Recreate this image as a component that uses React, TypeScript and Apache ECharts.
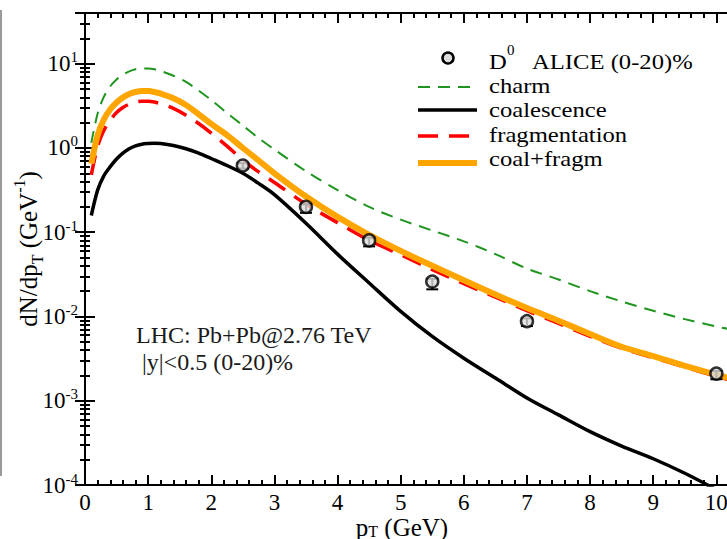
import React, { useEffect, useRef } from "react";
import * as echarts from "echarts";

// transverse momentum grid shared by the model curves (GeV)
const pT = [
  0.1, 0.2, 0.3, 0.4, 0.5, 0.6, 0.7, 0.8, 0.9, 1.0, 1.1, 1.2, 1.4, 1.6, 1.8, 2.0,
  2.25, 2.5, 2.75, 3.0, 3.5, 4.0, 4.5, 5.0, 5.5, 6.0, 6.5, 7.0, 7.5, 8.0, 8.5, 9.0,
  9.5, 10.0, 10.2,
];

// dN/dpT (GeV^-1) for each model component
const charm = [
  1.15, 2.57, 4.07, 5.4, 6.5, 7.4, 8.1, 8.6, 8.8, 8.8, 8.6, 8.2, 7.2, 6.1, 4.8, 3.7,
  2.6, 1.85, 1.31, 0.96, 0.53, 0.316, 0.2, 0.141, 0.105, 0.078, 0.055, 0.037, 0.0275,
  0.02, 0.0151, 0.0117, 0.0093, 0.0076, 0.0071,
];
const coalescence = [
  0.158, 0.316, 0.47, 0.6, 0.74, 0.87, 0.98, 1.06, 1.11, 1.13, 1.14, 1.13, 1.07, 0.98,
  0.87, 0.75, 0.62, 0.5, 0.38, 0.28, 0.128, 0.055, 0.025, 0.0115, 0.0058, 0.0032,
  0.00186, 0.00108, 0.00068, 0.00043, 0.00029, 0.000205, 0.000138, 0.000088, 0.000072,
];
const fragmentation = [
  0.48, 1.05, 1.62, 2.14, 2.63, 3.02, 3.31, 3.51, 3.59, 3.59, 3.51, 3.35, 2.95, 2.45,
  1.95, 1.5, 1.05, 0.72, 0.52, 0.39, 0.215, 0.13, 0.08, 0.054, 0.036, 0.0245, 0.017,
  0.0117, 0.0083, 0.0058, 0.0042, 0.00324, 0.00251, 0.00195, 0.00178,
];
const coalFragm = [
  0.65, 1.41, 2.19, 2.88, 3.47, 3.98, 4.37, 4.62, 4.73, 4.73, 4.62, 4.42, 3.89, 3.24,
  2.51, 1.93, 1.42, 1.0, 0.71, 0.5, 0.265, 0.152, 0.093, 0.06, 0.04, 0.0269, 0.0182,
  0.0126, 0.0089, 0.0062, 0.00437, 0.00339, 0.0026, 0.00204, 0.00186,
];

// D0 ALICE (0-20)% measurement
const alicePt = [2.5, 3.5, 4.5, 5.5, 7.0, 10.0];
const aliceYield = [0.62, 0.2, 0.08, 0.026, 0.0088, 0.0021];
const aliceLow = [0.57, 0.17, 0.068, 0.021, 0.0077, 0.0018];
const aliceHigh = [0.66, 0.215, 0.086, 0.028, 0.0095, 0.00225];

// axis ticks
const xTickValues = [0, 1, 2, 3, 4, 5, 6, 7, 8, 9, 10];
const yDecades = [-4, -3, -2, -1, 0, 1];
const yMinorMultipliers = [2, 3, 4, 5, 6, 7, 8, 9];

// legend entries
const legendNames = ["charm", "coalescence", "fragmentation", "coal+fragm"];

const X_MIN = 0;
const X_MAX = 10.2;
const Y_MIN = 1e-4;
const Y_MAX = 40;

const SERIF = '"Liberation Serif", "Times New Roman", serif';
const GREEN = "#1f951f";
const RED = "#ff0000";
const ORANGE = "#ffa500";

const xMinorValues: number[] = [];
for (let i = 0; i < 10; i++) {
  for (let k = 1; k < 5; k++) xMinorValues.push(+(i + k * 0.2).toFixed(2));
}
const yMinorValues: number[] = [];
for (const d of yDecades) {
  for (const m of yMinorMultipliers) {
    const v = m * Math.pow(10, d);
    if (v < Y_MAX) yMinorValues.push(v);
  }
}

const pairs = (ys: number[]) => pT.map((x, i) => [x, ys[i]]);

function buildOption(): echarts.EChartsOption {
  const axisLineStyle = { color: "#000", width: 2 };
  const tickStyle = { color: "#000", width: 2 };

  const xBase = { type: "value" as const, min: X_MIN, max: X_MAX, splitLine: { show: false } };
  const yBase = {
    type: "log" as const,
    logBase: 10,
    min: Y_MIN,
    max: Y_MAX,
    splitLine: { show: false },
  };

  const xLabel = {
    show: true,
    margin: 6,
    color: "#000",
    fontFamily: SERIF,
    fontSize: 23,
    lineHeight: 22,
    formatter: (v: number) => (xTickValues.includes(v) ? String(v) : ""),
  };
  const yLabel = {
    show: true,
    margin: 7,
    formatter: (v: number) => {
      const e = Math.round(Math.log10(v));
      if (!yDecades.includes(e) || Math.abs(Math.log10(v) - e) > 1e-6) return "";
      return `{m|10}{s|${e}}`;
    },
    rich: {
      m: { fontFamily: SERIF, fontSize: 23, color: "#000", lineHeight: 28 },
      s: { fontFamily: SERIF, fontSize: 15, color: "#000", verticalAlign: "top" as const },
    },
  };

  // legend layout
  const legendX0 = 418;
  const legendX1 = 477;
  const legendTextX = 489;
  const legendRowY = [85.5, 109.5, 134, 158.5];
  const legendSampleY = [87, 110, 136, 163];
  const legendStyles = [
    { stroke: GREEN, lineWidth: 2, lineDash: [12, 8] },
    { stroke: "#000", lineWidth: 3.5 },
    { stroke: RED, lineWidth: 3.5, lineDash: [20, 11] },
    { stroke: ORANGE, lineWidth: 6 },
  ];
  const legendFont = `22px ${SERIF}`;
  const stretched = (text: string, x: number, y: number, font: string) => ({
    type: "text",
    x,
    y,
    scaleX: 1.12,
    style: { text, x: 0, y: 0, font, fill: "#000", align: "left", verticalAlign: "middle" },
  });

  const legendItems: any[] = [];
  legendNames.forEach((name, i) => {
    legendItems.push({
      type: "line",
      shape: { x1: legendX0, y1: legendSampleY[i], x2: legendX1, y2: legendSampleY[i] },
      style: legendStyles[i],
    });
    legendItems.push(stretched(name, legendTextX, legendRowY[i], legendFont));
  });

  return {
    animation: false,
    backgroundColor: "#fff",
    grid: { left: 85, top: 13, width: 644, height: 472, containLabel: false, outerBoundsMode: "none" } as any,
    xAxis: [
      {
        ...xBase,
        position: "bottom",
        interval: 1,
        axisLine: { show: true, lineStyle: axisLineStyle },
        axisTick: { show: true, inside: true, length: 10, lineStyle: tickStyle },
        axisLabel: xLabel,
      },
      {
        ...xBase,
        position: "bottom",
        axisLine: { show: false },
        axisTick: { show: true, inside: true, length: 5, customValues: xMinorValues, lineStyle: tickStyle },
        axisLabel: { show: false },
      },
      {
        ...xBase,
        position: "top",
        interval: 1,
        axisLine: { show: true, lineStyle: axisLineStyle },
        axisTick: { show: true, inside: true, length: 10, lineStyle: tickStyle },
        axisLabel: { show: false },
      },
      {
        ...xBase,
        position: "top",
        axisLine: { show: false },
        axisTick: { show: true, inside: true, length: 5, customValues: xMinorValues, lineStyle: tickStyle },
        axisLabel: { show: false },
      },
    ] as any,
    yAxis: [
      {
        ...yBase,
        position: "left",
        axisLine: { show: true, lineStyle: axisLineStyle },
        axisTick: { show: true, inside: true, length: 10, lineStyle: tickStyle },
        axisLabel: yLabel,
      },
      {
        ...yBase,
        position: "left",
        axisLine: { show: false },
        axisTick: { show: true, inside: true, length: 5, customValues: yMinorValues, lineStyle: tickStyle },
        axisLabel: { show: false },
      },
      {
        ...yBase,
        position: "right",
        axisLine: { show: true, lineStyle: axisLineStyle },
        axisTick: { show: true, inside: true, length: 10, lineStyle: tickStyle },
        axisLabel: { show: false },
      },
      {
        ...yBase,
        position: "right",
        axisLine: { show: false },
        axisTick: { show: true, inside: true, length: 5, customValues: yMinorValues, lineStyle: tickStyle },
        axisLabel: { show: false },
      },
    ] as any,
    series: [
      {
        name: "charm",
        type: "line",
        data: pairs(charm),
        showSymbol: false,
        smooth: 0.3,
        lineStyle: { color: GREEN, width: 2, type: [12, 8] },
        z: 2,
      },
      {
        name: "coalescence",
        type: "line",
        data: pairs(coalescence),
        showSymbol: false,
        smooth: 0.3,
        lineStyle: { color: "#000", width: 3.5 },
        z: 3,
      },
      {
        name: "fragmentation",
        type: "line",
        data: pairs(fragmentation),
        showSymbol: false,
        smooth: 0.3,
        lineStyle: { color: RED, width: 3.5, type: [20, 11] },
        z: 4,
      },
      {
        name: "coal+fragm",
        type: "line",
        data: pairs(coalFragm),
        showSymbol: false,
        smooth: 0.3,
        lineStyle: { color: ORANGE, width: 6 },
        z: 5,
      },
      {
        name: "errors",
        type: "custom",
        data: alicePt.map((x, i) => [x, aliceLow[i], aliceHigh[i]]),
        encode: { x: 0, y: [1, 2] },
        z: 6,
        renderItem: (_params: any, api: any) => {
          const x = api.value(0);
          const lo = api.coord([x, api.value(1)]);
          const hi = api.coord([x, api.value(2)]);
          const w = 6;
          const st = { stroke: "#000", lineWidth: 2 };
          return {
            type: "group",
            children: [
              { type: "line", shape: { x1: lo[0], y1: lo[1], x2: hi[0], y2: hi[1] }, style: st },
              { type: "line", shape: { x1: lo[0] - w, y1: lo[1], x2: lo[0] + w, y2: lo[1] }, style: st },
              { type: "line", shape: { x1: hi[0] - w, y1: hi[1], x2: hi[0] + w, y2: hi[1] }, style: st },
            ],
          };
        },
      },
      {
        name: "D0 ALICE (0-20)%",
        type: "scatter",
        data: alicePt.map((x, i) => [x, aliceYield[i]]),
        symbol: "circle",
        symbolSize: 12,
        itemStyle: { color: "#dcdcdc", borderColor: "#000", borderWidth: 2.5 },
        z: 7,
      },
    ] as any,
    graphic: [
      // edge of the neighbouring panel
      { type: "line", shape: { x1: 1, y1: 10, x2: 1, y2: 476 }, style: { stroke: "#9a9a9a", lineWidth: 2 } },
      // legend: data marker row
      {
        type: "circle",
        shape: { cx: 448, cy: 58, r: 5.5 },
        style: { fill: "#dcdcdc", stroke: "#000", lineWidth: 2.5 },
      },
      stretched("D", legendTextX, 61, legendFont),
      {
        type: "text",
        style: { text: "0", x: 507, y: 50, font: `15px ${SERIF}`, fill: "#000", align: "left", verticalAlign: "middle" },
      },
      stretched("ALICE (0-20)%", 532, 61, legendFont),
      // legend: model curves
      ...legendItems,
      // collision system annotation
      {
        type: "text",
        style: { text: "LHC: Pb+Pb@2.76 TeV", x: 136, y: 335, font: `24px ${SERIF}`, fill: "#1a1a1a", align: "left", verticalAlign: "middle" },
      },
      {
        type: "text",
        style: { text: "|y|<0.5 (0-20)%", x: 142, y: 362, font: `24px ${SERIF}`, fill: "#1a1a1a", align: "left", verticalAlign: "middle" },
      },
      // axis titles
      {
        type: "text",
        x: 28,
        y: 249,
        rotation: Math.PI / 2,
        style: {
          text: "{a|dN/dp}{b|T}{a| (GeV}{c|-1}{a|)}",
          align: "center",
          verticalAlign: "middle",
          rich: {
            a: { fontFamily: SERIF, fontSize: 25, color: "#000", lineHeight: 34 },
            b: { fontFamily: SERIF, fontSize: 16, color: "#000", verticalAlign: "bottom" },
            c: { fontFamily: SERIF, fontSize: 16, color: "#000", verticalAlign: "top" },
          },
        },
      },
      {
        type: "text",
        x: 402,
        y: 527,
        style: {
          text: "{a|p}{b|T}{a| (GeV)}",
          align: "center",
          verticalAlign: "middle",
          rich: {
            a: { fontFamily: SERIF, fontSize: 25, color: "#000", lineHeight: 24 },
            b: { fontFamily: SERIF, fontSize: 16, color: "#000", lineHeight: 16, verticalAlign: "bottom" },
          },
        },
      },
    ] as any,
  };
}

export default function App() {
  const ref = useRef<HTMLDivElement>(null);

  useEffect(() => {
    document.body.style.margin = "0";
    if (!ref.current) return;
    const chart = echarts.init(ref.current, undefined, { renderer: "svg" });
    chart.setOption(buildOption());
    return () => chart.dispose();
  }, []);

  return <div ref={ref} style={{ width: 727, height: 539 }} />;
}
